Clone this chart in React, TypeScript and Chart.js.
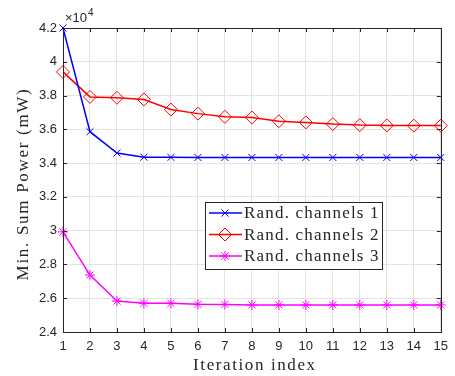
import React, { useEffect, useRef } from "react";
import { Chart, registerables } from "chart.js";

Chart.register(...registerables);

const iterations = [1, 2, 3, 4, 5, 6, 7, 8, 9, 10, 11, 12, 13, 14, 15];
const seriesLabels = ["Rand. channels 1", "Rand. channels 2", "Rand. channels 3"];
const channels1 = [42000, 35860, 34600, 34350, 34340, 34335, 34335, 34335, 34335, 34335, 34335, 34335, 34335, 34335, 34335];
const channels2 = [39400, 37920, 37870, 37770, 37170, 36930, 36740, 36700, 36480, 36410, 36310, 36250, 36230, 36220, 36220];
const channels3 = [29930, 27370, 25830, 25700, 25700, 25640, 25630, 25600, 25600, 25600, 25600, 25600, 25600, 25600, 25600];
const yMin = 24000;
const yMax = 42000;
const yStep = 2000;
const xTitle = "Iteration index";
const yTitle = "Min. Sum Power (mW)";

const AXIS = "#262626";
const SERIF = "'Liberation Serif', 'DejaVu Serif', serif";
const SANS = "'Liberation Sans', Arial, sans-serif";

function drawMarker(ctx: CanvasRenderingContext2D, style: string, x: number, y: number, r: number) {
  ctx.beginPath();
  if (style === "crossRot" || style === "star") {
    const d = Math.SQRT1_2 * r;
    ctx.moveTo(x - d, y - d); ctx.lineTo(x + d, y + d);
    ctx.moveTo(x - d, y + d); ctx.lineTo(x + d, y - d);
  }
  if (style === "star") {
    ctx.moveTo(x - r, y); ctx.lineTo(x + r, y);
    ctx.moveTo(x, y - r); ctx.lineTo(x, y + r);
  }
  if (style === "rectRot") {
    ctx.moveTo(x, y - r); ctx.lineTo(x + r, y); ctx.lineTo(x, y + r); ctx.lineTo(x - r, y); ctx.closePath();
  }
  ctx.stroke();
}

const matlabPlugin = {
  id: "matlabAxes",
  afterDatasetsDraw(chart: any) {
    const { ctx, chartArea: a, scales } = chart;
    ctx.save();
    ctx.strokeStyle = AXIS;
    ctx.lineWidth = 1;
    // inward ticks
    const tl = 4;
    ctx.beginPath();
    for (const v of iterations) {
      const px = Math.round(scales.x.getPixelForValue(v)) + 0.5;
      ctx.moveTo(px, a.top); ctx.lineTo(px, a.top + tl);
      ctx.moveTo(px, a.bottom); ctx.lineTo(px, a.bottom - tl);
    }
    for (let v = yMin; v <= yMax; v += yStep) {
      const py = Math.round(scales.y.getPixelForValue(v)) + 0.5;
      ctx.moveTo(a.left, py); ctx.lineTo(a.left + tl, py);
      ctx.moveTo(a.right, py); ctx.lineTo(a.right - tl, py);
    }
    ctx.stroke();
    ctx.strokeRect(Math.round(a.left) + 0.5, Math.round(a.top) + 0.5, Math.round(a.right - a.left), Math.round(a.bottom - a.top));
    // exponent label
    ctx.fillStyle = AXIS;
    ctx.textBaseline = "alphabetic";
    ctx.textAlign = "left";
    ctx.font = `13px ${SANS}`;
    ctx.fillText("\u00d710", a.left + 2, a.top - 6);
    const w = ctx.measureText("\u00d710").width;
    ctx.font = `10px ${SANS}`;
    ctx.fillText("4", a.left + 2 + w + 1, a.top - 12);
    // axis titles
    ctx.font = `17px ${SERIF}`;
    ctx.textAlign = "center";
    ctx.textBaseline = "middle";
    (ctx as any).letterSpacing = "1.6px";
    ctx.fillText(xTitle, (a.left + a.right) / 2 + 3, 366);
    ctx.save();
    ctx.translate(24, (a.top + a.bottom) / 2 + 4);
    ctx.rotate(-Math.PI / 2);
    (ctx as any).letterSpacing = "1.7px";
    ctx.fillText(yTitle, 0, 0);
    ctx.restore();
    // legend
    const lx = 205, ly = 202, lw = 177, lh = 67;
    ctx.fillStyle = "#ffffff";
    ctx.fillRect(lx, ly, lw, lh);
    ctx.strokeStyle = AXIS;
    ctx.lineWidth = 1;
    ctx.strokeRect(lx + 0.5, ly + 0.5, lw, lh);
    ctx.font = `17px ${SERIF}`;
    ctx.textAlign = "left";
    ctx.textBaseline = "middle";
    (ctx as any).letterSpacing = "1.2px";
    chart.data.datasets.forEach((ds: any, i: number) => {
      const cy = ly + 11 + i * 21.5;
      ctx.strokeStyle = ds.borderColor;
      ctx.lineWidth = 1.5;
      ctx.beginPath();
      ctx.moveTo(lx + 4, cy); ctx.lineTo(lx + 37, cy);
      ctx.stroke();
      ctx.lineWidth = 1;
      drawMarker(ctx, ds.pointStyle, lx + 20, cy, ds.pointRadius);
      ctx.fillStyle = AXIS;
      ctx.fillText(ds.label, lx + 39, cy + 1);
    });
    ctx.restore();
  },
};

export default function App() {
  const ref = useRef<HTMLCanvasElement>(null);
  useEffect(() => {
    if (!ref.current) return;
    const mk = (label: string, data: number[], color: string, style: string, r: number) => ({
      label,
      data: data.map((v, i) => ({ x: iterations[i], y: v })),
      borderColor: color,
      backgroundColor: "rgba(0,0,0,0)",
      borderWidth: 1.5,
      pointStyle: style,
      pointRadius: r,
      pointBorderWidth: 1,
      pointBorderColor: color,
      pointBackgroundColor: "rgba(0,0,0,0)",
      tension: 0,
      clip: false as any,
    });
    const chart = new Chart(ref.current, {
      type: "line",
      data: {
        datasets: [
          mk(seriesLabels[0], channels1, "#0000ff", "crossRot", 5),
          mk(seriesLabels[1], channels2, "#ff0000", "rectRot", 6.5),
          mk(seriesLabels[2], channels3, "#ff00ff", "star", 5),
        ],
      },
      options: {
        animation: false,
        responsive: true,
        maintainAspectRatio: false,
        devicePixelRatio: 1,
        layout: { padding: { left: 0, right: 6, top: 28, bottom: 0 } },
        plugins: { legend: { display: false }, tooltip: { enabled: false } },
        scales: {
          x: {
            type: "linear",
            min: 1,
            max: 15,
            afterFit: (s: any) => { s.height = 44; },
            ticks: { stepSize: 1, color: AXIS, font: { family: SANS, size: 13 }, padding: 7, maxRotation: 0, autoSkip: false },
            grid: { color: "#e3e3e3", drawTicks: false },
            border: { display: false },
            title: { display: false },
          },
          y: {
            min: yMin,
            max: yMax,
            afterFit: (s: any) => { s.width = 63; },
            ticks: {
              stepSize: yStep,
              color: AXIS,
              font: { family: SANS, size: 13 },
              padding: 6,
              callback: (v: any) => String(+(Number(v) / 1e4).toFixed(1)),
            },
            grid: { color: "#e3e3e3", drawTicks: false },
            border: { display: false },
            title: { display: false },
          },
        },
      },
      plugins: [matlabPlugin],
    });
    return () => chart.destroy();
  }, []);
  return (
    <div style={{ position: "fixed", left: 0, top: 0, width: 455, height: 376, background: "#fff" }}>
      <canvas ref={ref} />
    </div>
  );
}
